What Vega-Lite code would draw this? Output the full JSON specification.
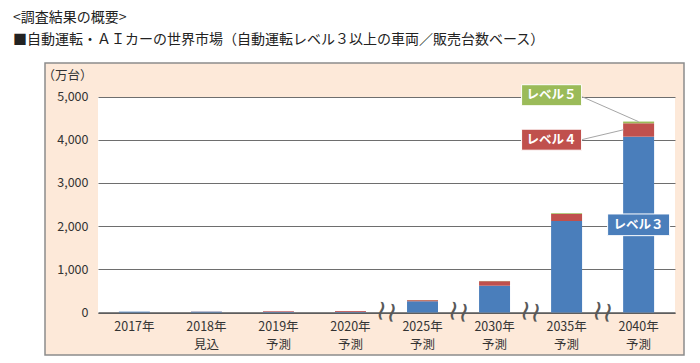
{
  "$schema": "https://vega.github.io/schema/vega-lite/v6.json",
  "width": 639,
  "height": 292,
  "autosize": {"type": "none"},
  "padding": {"left": 45, "top": 63, "right": 16, "bottom": 8},
  "background": "white",
  "config": {
    "view": {"fill": "#fde9d9", "stroke": "#8c8c8c", "strokeWidth": 1.5},
    "font": "Noto Sans CJK JP"
  },
  "title": {
    "text": "<調査結果の概要>",
    "subtitle": "■自動運転・ＡＩカーの世界市場（自動運転レベル３以上の車両／販売台数ベース）",
    "anchor": "start",
    "frame": "group",
    "dx": -32,
    "fontSize": 14,
    "fontWeight": "normal",
    "subtitleFontSize": 14,
    "color": "#222222",
    "subtitleColor": "#222222",
    "offset": 16,
    "subtitlePadding": 8
  },
  "resolve": {"axis": {"x": "independent"}},
  "datasets": {
    "bars": [
      {"cat": "2017年", "level": "レベル3", "k": 1, "v": 20},
      {"cat": "2018年 見込", "level": "レベル3", "k": 1, "v": 20},
      {"cat": "2018年 見込", "level": "レベル4", "k": 2, "v": 3},
      {"cat": "2019年 予測", "level": "レベル3", "k": 1, "v": 15},
      {"cat": "2019年 予測", "level": "レベル4", "k": 2, "v": 15},
      {"cat": "2020年 予測", "level": "レベル3", "k": 1, "v": 15},
      {"cat": "2020年 予測", "level": "レベル4", "k": 2, "v": 20},
      {"cat": "2025年 予測", "level": "レベル3", "k": 1, "v": 260},
      {"cat": "2025年 予測", "level": "レベル4", "k": 2, "v": 25},
      {"cat": "2025年 予測", "level": "レベル5", "k": 3, "v": 3},
      {"cat": "2030年 予測", "level": "レベル3", "k": 1, "v": 620},
      {"cat": "2030年 予測", "level": "レベル4", "k": 2, "v": 105},
      {"cat": "2030年 予測", "level": "レベル5", "k": 3, "v": 5},
      {"cat": "2035年 予測", "level": "レベル3", "k": 1, "v": 2120},
      {"cat": "2035年 予測", "level": "レベル4", "k": 2, "v": 160},
      {"cat": "2035年 予測", "level": "レベル5", "k": 3, "v": 20},
      {"cat": "2040年 予測", "level": "レベル3", "k": 1, "v": 4070},
      {"cat": "2040年 予測", "level": "レベル4", "k": 2, "v": 310},
      {"cat": "2040年 予測", "level": "レベル5", "k": 3, "v": 40}
    ],
    "tagsUpper": [
      {"cat": "2035年 予測", "y": 5030, "t": "レベル５", "level": "レベル5"},
      {"cat": "2035年 予測", "y": 4000, "t": "レベル４", "level": "レベル4"}
    ],
    "tagLower": [
      {"cat": "2040年 予測", "y": 2030, "t": "レベル３", "level": "レベル3"}
    ],
    "breaks": [
      {"cat": "2025年 予測"},
      {"cat": "2030年 予測"},
      {"cat": "2035年 予測"},
      {"cat": "2040年 予測"}
    ]
  },
  "layer": [
    {
      "data": {"name": "bars"},
      "mark": {"type": "bar"},
      "encoding": {
        "x": {
          "field": "cat",
          "type": "nominal",
          "sort": null,
          "scale": {
            "domain": ["2017年", "2018年 見込", "2019年 予測", "2020年 予測", "2025年 予測", "2030年 予測", "2035年 予測", "2040年 予測"],
            "range": [53, 630],
            "paddingInner": 0.57,
            "paddingOuter": 0.29
          },
          "axis": {
            "orient": "bottom",
            "title": null,
            "labelAngle": 0,
            "labelExpr": "split(datum.label, ' ')",
            "labelFontSize": 12.5,
            "labelColor": "#333333",
            "labelPadding": 8,
            "labelLineHeight": 18,
            "ticks": false,
            "domainColor": "#595959",
            "domainWidth": 1.5,
            "grid": false,
            "offset": -42.5,
            "bandPosition": 0.5
          }
        },
        "y": {
          "field": "v",
          "type": "quantitative",
          "stack": "zero",
          "scale": {"domain": [0, 5000], "range": [249.5, 33.5], "nice": false},
          "axis": {
            "title": "（万台）",
            "values": [0, 1000, 2000, 3000, 4000, 5000],
            "format": ",.0f",
            "domain": false,
            "ticks": false,
            "labelPadding": 10,
            "labelFontSize": 12.5,
            "labelColor": "#333333",
            "gridColor": "#6e6e6e",
            "gridWidth": 1,
            "offset": -53,
            "titleAngle": 0,
            "titleX": -31,
            "titleY": 12,
            "titleAlign": "center",
            "titleBaseline": "middle",
            "titleFontSize": 12.5,
            "titleFontWeight": "normal",
            "titleColor": "#333333"
          }
        },
        "color": {
          "field": "level",
          "type": "nominal",
          "scale": {"domain": ["レベル3", "レベル4", "レベル5"], "range": ["#4a7ebb", "#c0504d", "#9bbb59"]},
          "legend": null
        },
        "order": {"field": "k", "type": "quantitative"}
      }
    },
    {
      "data": {"name": "breaks"},
      "mark": {"type": "text", "text": "≀≀", "font": "DejaVu Sans", "fontSize": 28, "color": "#595959", "angle": 10, "xOffset": -36, "baseline": "middle", "align": "center"},
      "encoding": {
        "x": {
          "field": "cat",
          "type": "nominal",
          "axis": {
            "orient": "top",
            "title": null,
            "labels": false,
            "ticks": false,
            "domain": false,
            "grid": true,
            "gridColor": "#ffffff",
            "gridWidth": 73,
            "gridOpacity": 1,
            "offset": 0,
            "bandPosition": 0.5
          }
        },
        "y": {"datum": 0, "type": "quantitative"}
      }
    },
    {
      "data": {"values": [{"a": "2035年 予測", "b": "2040年 予測", "y1": 5000, "y2": 4417}]},
      "mark": {"type": "rule", "color": "#a6a6a6", "strokeWidth": 1, "xOffset": 15},
      "encoding": {
        "x": {"field": "a", "type": "nominal", "axis": null},
        "x2": {"field": "b"},
        "y": {"field": "y1", "type": "quantitative"},
        "y2": {"field": "y2"}
      }
    },
    {
      "data": {"values": [{"a": "2035年 予測", "b": "2040年 予測", "y1": 4000, "y2": 4230}]},
      "mark": {"type": "rule", "color": "#a6a6a6", "strokeWidth": 1, "xOffset": 15, "x2Offset": -15},
      "encoding": {
        "x": {"field": "a", "type": "nominal", "axis": null},
        "x2": {"field": "b"},
        "y": {"field": "y1", "type": "quantitative"},
        "y2": {"field": "y2"}
      }
    },
    {
      "data": {"name": "tagsUpper"},
      "mark": {"type": "point", "shape": "M-1,-0.35L1,-0.35L1,0.35L-1,0.35Z", "size": 3600, "filled": true, "opacity": 1, "stroke": "#ffffff", "strokeWidth": 1, "xOffset": -15},
      "encoding": {
        "x": {"field": "cat", "type": "nominal", "axis": null},
        "y": {"field": "y", "type": "quantitative"},
        "color": {"field": "level", "type": "nominal"}
      }
    },
    {
      "data": {"name": "tagsUpper"},
      "mark": {"type": "text", "color": "#ffffff", "fontSize": 12.5, "fontWeight": "bold", "xOffset": -15, "baseline": "middle", "align": "center"},
      "encoding": {
        "x": {"field": "cat", "type": "nominal", "axis": null},
        "y": {"field": "y", "type": "quantitative"},
        "text": {"field": "t"}
      }
    },
    {
      "data": {"name": "tagLower"},
      "mark": {"type": "point", "shape": "M-1,-0.35L1,-0.35L1,0.35L-1,0.35Z", "size": 3844, "filled": true, "opacity": 1, "stroke": "#ffffff", "strokeWidth": 1},
      "encoding": {
        "x": {"field": "cat", "type": "nominal", "axis": null},
        "y": {"field": "y", "type": "quantitative"},
        "color": {"field": "level", "type": "nominal"}
      }
    },
    {
      "data": {"name": "tagLower"},
      "mark": {"type": "text", "color": "#ffffff", "fontSize": 12.5, "fontWeight": "bold", "baseline": "middle", "align": "center"},
      "encoding": {
        "x": {"field": "cat", "type": "nominal", "axis": null},
        "y": {"field": "y", "type": "quantitative"},
        "text": {"field": "t"}
      }
    }
  ]
}
